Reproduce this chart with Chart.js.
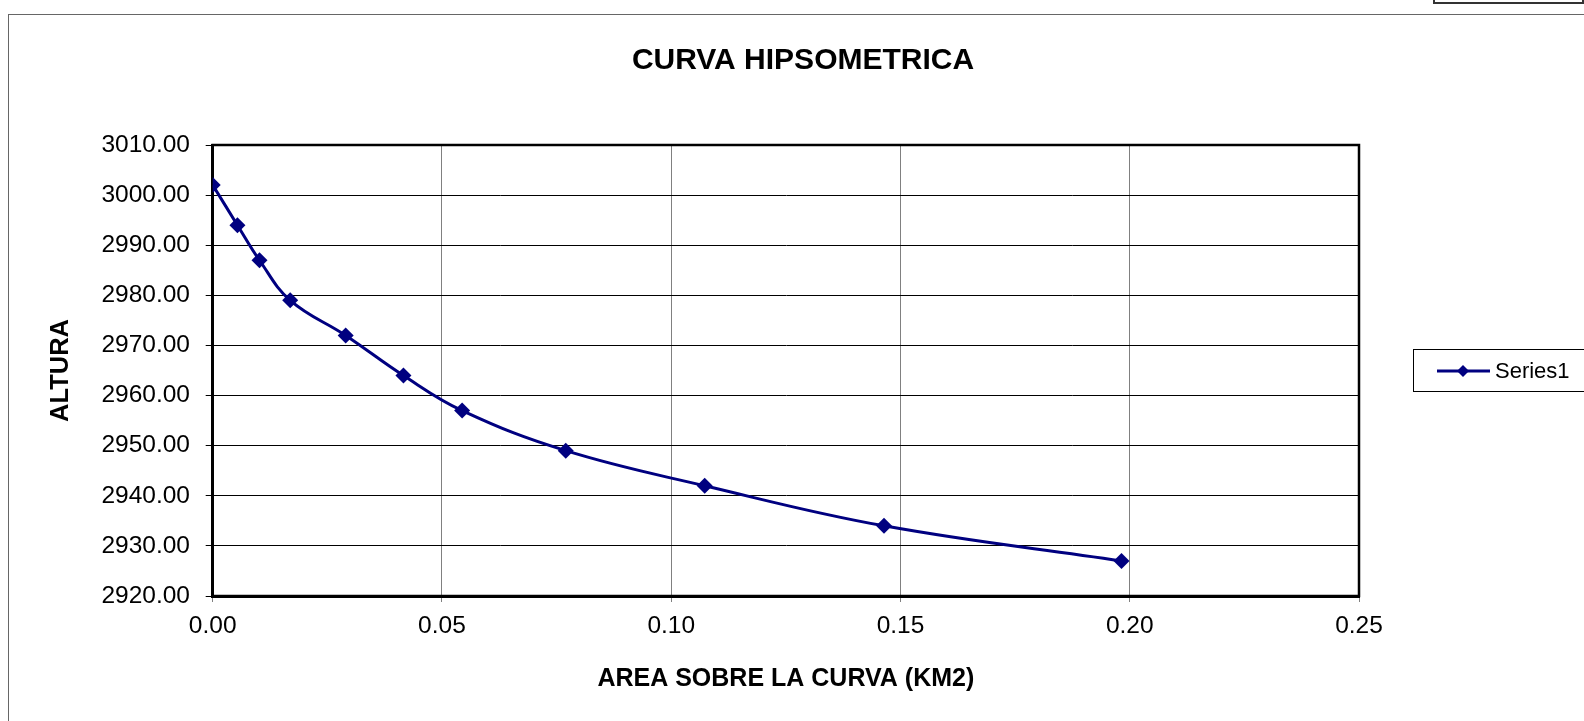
<!DOCTYPE html>
<html>
<head>
<meta charset="utf-8">
<script src="https://cdn.jsdelivr.net/npm/chart.js@4"></script>
<style>
  html, body { margin: 0; padding: 0; background: #fff; overflow: hidden; }
  #wrap { position: relative; width: 1584px; height: 721px; }
  #outer { position: absolute; left: 8px; top: 14px; width: 1600px; height: 800px; border: 1px solid #666; }
  #corner { position: absolute; left: 1433px; top: -10px; width: 147px; height: 10px; border: 2px solid #333; background: #fff; }
  canvas { position: absolute; left: 0; top: 0; }
</style>
</head>
<body>
<div id="wrap">
  <div id="outer"></div>
  <div id="corner"></div>
  <canvas id="hipso" width="1584" height="721"></canvas>
</div>
<script>
// datos
var areaKm2 = [0, 0.0054, 0.0102, 0.0169, 0.0290, 0.0416, 0.0544, 0.0770, 0.1073, 0.1464, 0.1982];
var altura = [3002, 2994, 2987, 2979, 2972, 2964, 2957, 2949, 2942, 2934, 2927];
var seriesName = 'Series1';
var chartTitle = 'CURVA HIPSOMETRICA';
var xTitle = 'AREA SOBRE LA CURVA (KM2)';
var yTitle = 'ALTURA';

var FONT = 'Arial, "Liberation Sans", sans-serif';
var NAVY = '#000080';

var puntos = areaKm2.map(function (a, i) { return { x: a, y: altura[i] }; });

// marco del area de trazado, titulo y leyenda
var extras = {
    id: 'extras',
    beforeDatasetsDraw: function (chart) {
        var c = chart.ctx, a = chart.chartArea;
        c.save();
        c.strokeStyle = '#000';
        c.lineWidth = 2.5;
        c.strokeRect(a.left, a.top, a.right - a.left, a.bottom - a.top);
        c.restore();
    },
    afterDraw: function (chart) {
        var c = chart.ctx;
        c.save();
        c.fillStyle = '#000';
        c.font = 'bold 30px ' + FONT;
        c.textAlign = 'center';
        c.textBaseline = 'middle';
        c.fillText(chartTitle, 803, 61);

        // leyenda
        c.strokeStyle = '#000';
        c.lineWidth = 1;
        c.strokeRect(1413.5, 349.5, 200, 42);
        c.strokeStyle = NAVY;
        c.lineWidth = 3;
        c.beginPath();
        c.moveTo(1437, 371);
        c.lineTo(1490, 371);
        c.stroke();
        c.fillStyle = NAVY;
        c.beginPath();
        c.moveTo(1463, 365);
        c.lineTo(1469, 371);
        c.lineTo(1463, 377);
        c.lineTo(1457, 371);
        c.closePath();
        c.fill();
        c.fillStyle = '#000';
        c.font = '22px ' + FONT;
        c.textAlign = 'left';
        c.fillText(seriesName, 1495, 372);
        c.restore();
    }
};

var ctx = document.getElementById('hipso').getContext('2d');
var chart = new Chart(ctx, {
    type: 'line',
    data: {
        datasets: [{
            label: seriesName,
            data: puntos,
            borderColor: NAVY,
            backgroundColor: NAVY,
            borderWidth: 3,
            tension: 0.4,
            pointStyle: 'rectRot',
            pointRadius: 8,
            pointBorderWidth: 0,
            fill: false
        }]
    },
    options: {
        responsive: false,
        animation: false,
        layout: { padding: { left: 42, right: 225, top: 145, bottom: 23 } },
        plugins: {
            legend: { display: false },
            title: { display: false },
            tooltip: { enabled: false }
        },
        scales: {
            x: {
                type: 'linear',
                min: 0,
                max: 0.25,
                afterFit: function (s) { s.height = 102; },
                ticks: {
                    stepSize: 0.05,
                    color: '#000',
                    padding: 10,
                    maxRotation: 0,
                    font: { family: FONT, size: 24.5 },
                    callback: function (v) { return v.toFixed(2); }
                },
                grid: { color: '#808080', lineWidth: 1, tickLength: 6 },
                border: { color: '#000', width: 3 },
                title: {
                    display: true,
                    text: xTitle,
                    color: '#000',
                    font: { family: FONT, size: 25, weight: 'bold' }
                }
            },
            y: {
                min: 2920,
                max: 3010,
                afterFit: function (s) { s.width = 170.7; },
                ticks: {
                    stepSize: 10,
                    color: '#000',
                    padding: 15.7,
                    font: { family: FONT, size: 24.5 },
                    callback: function (v) { return v.toFixed(2); }
                },
                grid: { color: '#000', lineWidth: 1, tickLength: 7 },
                border: { color: '#000', width: 3 },
                title: {
                    display: true,
                    text: yTitle,
                    color: '#000',
                    font: { family: FONT, size: 25.5, weight: 'bold' }
                }
            }
        }
    },
    plugins: [extras]
});
</script>
</body>
</html>
